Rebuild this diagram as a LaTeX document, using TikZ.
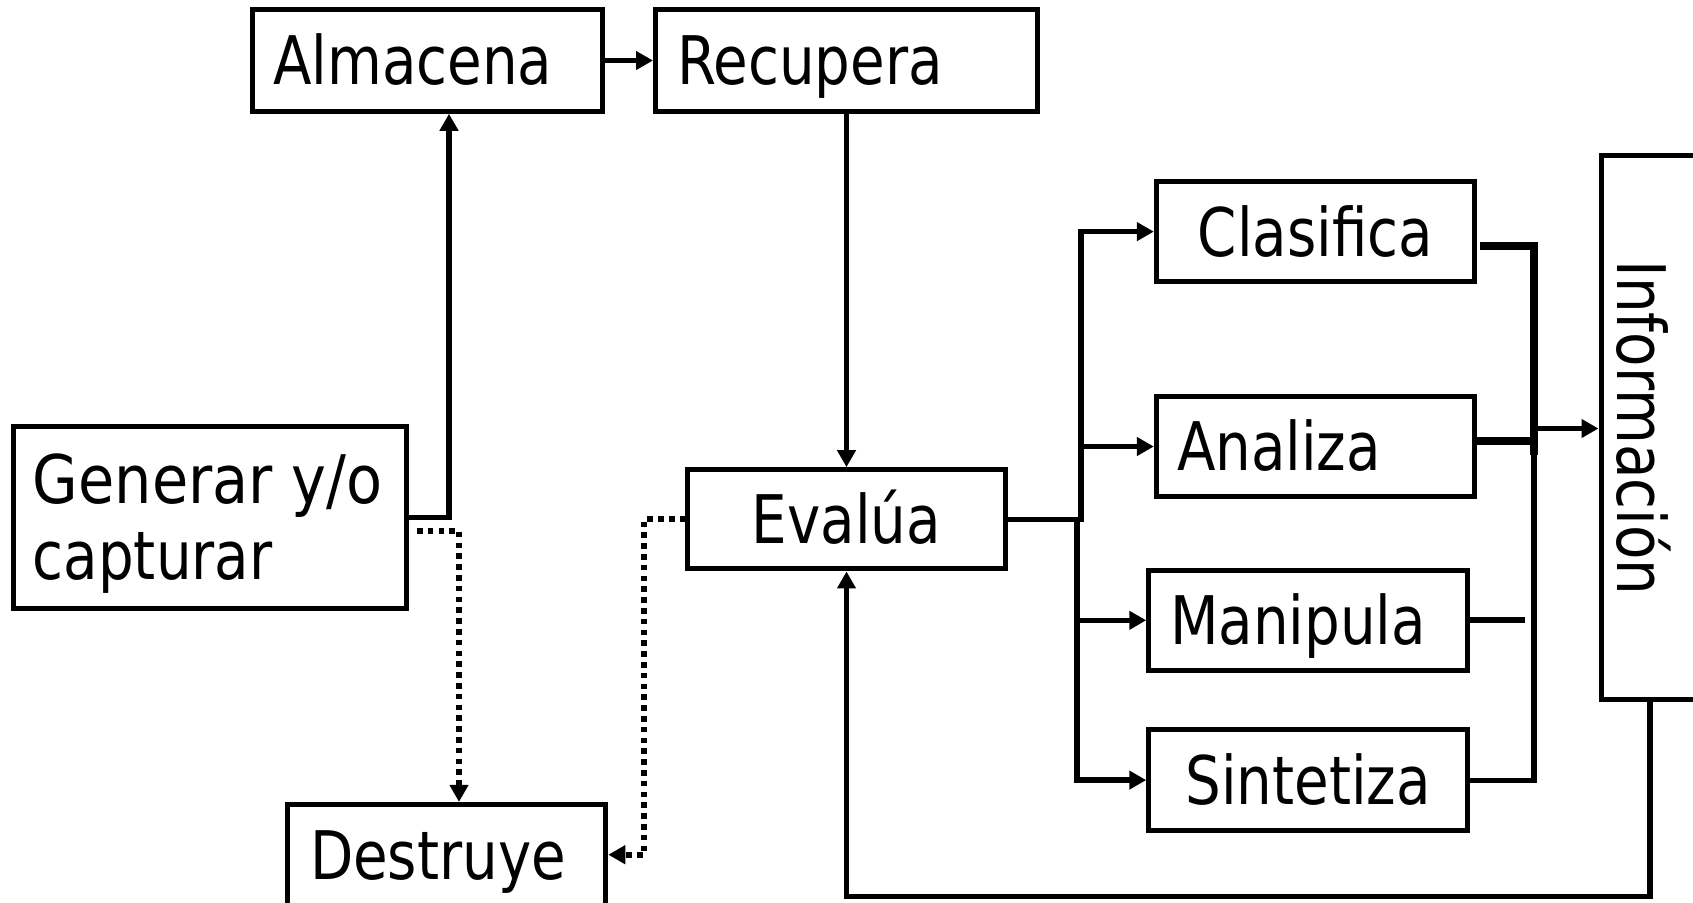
\documentclass[tikz,border=0pt]{standalone}
\usepackage{fontspec}
\setmainfont{DejaVu Sans}[FakeStretch=0.84]
\newfontfamily\widerfont{DejaVu Sans}[FakeStretch=0.88]
\usetikzlibrary{arrows.meta}
\begin{document}
\begin{tikzpicture}[x=0.5pt, y=-0.5pt,
  box/.style={draw, line width=2.5pt, inner sep=0pt, text height=24.4pt, text depth=0pt,
              font=\fontsize{33.5pt}{40pt}\selectfont},
  txt/.style={inner sep=0pt, font=\fontsize{33.5pt}{40pt}\selectfont},
  plain/.style={line width=2.6pt, line cap=rect},
  conn/.style={line width=2.8pt, -{Triangle[length=8.5pt,width=9pt]}},
  thickl/.style={line width=3.6pt},
  midl/.style={line width=3pt},
  dotc/.style={line width=3pt, dash pattern=on 2.8pt off 2.6pt, -{Triangle[length=8.5pt,width=9pt]}}
]
\fill[white] (0,0) rectangle (1693,902);
\useasboundingbox (0,0) rectangle (1693,902);

% boxes
\node[box, minimum width=175pt, minimum height=50.75pt, text width=154.4pt, align=left] (alm) at (427.5,60.5) {Almacena};
\node[box, minimum width=191pt, minimum height=50.75pt, text width=169.4pt, align=left] (rec) at (846.5,60.5) {Recupera};
\node[box, minimum width=196.5pt, minimum height=90.75pt] (gen) at (209.5,517.3) {};
\node[txt, anchor=base west, font=\fontsize{33.5pt}{40pt}\widerfont] (gen1) at (32.4,503) {Generar y/o};
\node[txt, anchor=base west] (gen2) at (32.4,579) {capturar};
\node[box, minimum width=158.7pt, minimum height=49.65pt, align=center] (eva) at (846.5,519.3) {Evalúa};
\node[box, minimum width=159.25pt, minimum height=50.3pt, text width=136.5pt, align=left] (des) at (446.5,854.7) {Destruye};
\node[box, minimum width=159.25pt, minimum height=50.2pt, align=center] (cla) at (1315.6,231.6) {Clasifica};
\node[box, minimum width=159.25pt, minimum height=50.2pt, text width=138.6pt, align=left] (ana) at (1315.6,446.5) {Analiza};
\node[box, minimum width=159.25pt, minimum height=50.2pt, text width=138pt, align=left] (man) at (1308,620.3) {Manipula};
\node[box, minimum width=159.25pt, minimum height=50.2pt, align=center] (sin) at (1308,780.1) {Sintetiza};
\node[draw, line width=2.5pt, minimum width=49pt, minimum height=272pt, inner sep=0pt] (inf) at (1650,427.6) {};
\node[txt, rotate=-90, anchor=base] (inftxt) at (1617,428) {Información};

% connectors
\draw[conn] (gen.east) -| ([xshift=10.75pt]alm.south);
\draw[conn] (alm.east) -- (rec.west);
\draw[conn] (rec.south) -- (eva.north);

\coordinate (g1) at (417,530.5);
\draw[dotc] (g1) -| ([xshift=6.25pt]des.north);
\draw[dotc] (eva.west) -- ++(-41,0) |- (des.east);

\coordinate (b1) at (1081,519.3);
\coordinate (b2) at (1077,519.3);
\draw[conn] (eva.east) -- (b1) |- (cla.west);
\draw[conn] (b1) |- (ana.west);
\draw[conn] (b2) |- (man.west);
\draw[conn] (b2) |- (sin.west);

\coordinate (r1) at (1480,246);
\coordinate (rc) at (1534,246);
\coordinate (rm) at (1534,455);
\draw[thickl] (r1) -- (rc) -- (rm);
\draw[thickl] (ana.east |- 0,441) -- (1534,441);
\coordinate (jt) at (1534,450);
\draw[plain] (sin.east) -| (jt);
\draw[midl] (man.east) -- ++(55,0);
\coordinate (ja) at (1534,428.5);
\draw[conn] (ja) -- (ja -| inf.west);
\draw[conn] (inf.south) -- ++(0,194.3) -| (eva.south);
\end{tikzpicture}
\end{document}
